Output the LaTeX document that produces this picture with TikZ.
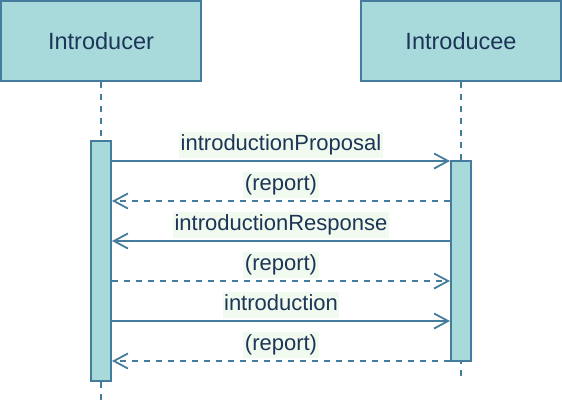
\documentclass[tikz,border=0pt]{standalone}
\usepackage{fontspec}
\setmainfont{Liberation Sans}
\usetikzlibrary{arrows.meta}
\definecolor{fillc}{HTML}{A8DADC}
\definecolor{strokec}{HTML}{457B9D}
\definecolor{textc}{HTML}{1D3557}
\definecolor{labelbg}{HTML}{F1FAEE}
\begin{document}
\begin{tikzpicture}[x=1pt,y=-1pt,
  actor/.style={draw=strokec,fill=fillc,line width=2pt,minimum width=200pt,minimum height=80pt,inner sep=0pt,text=textc,font=\fontsize{23.5}{28}\selectfont},
  actbar/.style={draw=strokec,fill=fillc,line width=2pt,minimum width=20pt,inner sep=0pt},
  lifeline/.style={draw=strokec,line width=2pt,dash pattern=on 6pt off 6pt},
  msg/.style={draw=strokec,line width=1.8pt,-{Straight Barb[length=14pt,width=15pt,line width=1.8pt]}},
  reply/.style={msg,dash pattern=on 6pt off 6pt},
  lbl/.style={fill=labelbg,text=textc,font=\fontsize{22}{26}\selectfont,text height=16pt,text depth=4.5pt,inner xsep=1.5pt,inner ysep=3pt,anchor=south,yshift=2pt}
]
\useasboundingbox (0,0) rectangle (562,402);
\node[actor] (A) at (101,41) {Introducer};
\node[actor] (B) at (461,41) {Introducee};
\coordinate (Aend) at (101,401);
\coordinate (Bend) at (461,380);
\draw[lifeline] (A.south) -- (Aend);
\draw[lifeline] (B.south) -- (Bend);
\node[actbar,minimum height=240pt] (barL) at (101,261) {};
\node[actbar,minimum height=200pt] (barR) at (461,261) {};
\draw[msg] (barL.east |- 0,161) -- node[lbl]{introductionProposal} (barR.west |- 0,161);
\draw[reply] (barR.west |- 0,201) -- node[lbl]{(report)} (barL.east |- 0,201);
\draw[msg] (barR.west |- 0,241) -- node[lbl]{introductionResponse} (barL.east |- 0,241);
\draw[reply] (barL.east |- 0,281) -- node[lbl]{(report)} (barR.west |- 0,281);
\draw[msg] (barL.east |- 0,321) -- node[lbl]{introduction} (barR.west |- 0,321);
\draw[reply] (barR.west |- 0,361) -- node[lbl]{(report)} (barL.east |- 0,361);
\end{tikzpicture}
\end{document}
